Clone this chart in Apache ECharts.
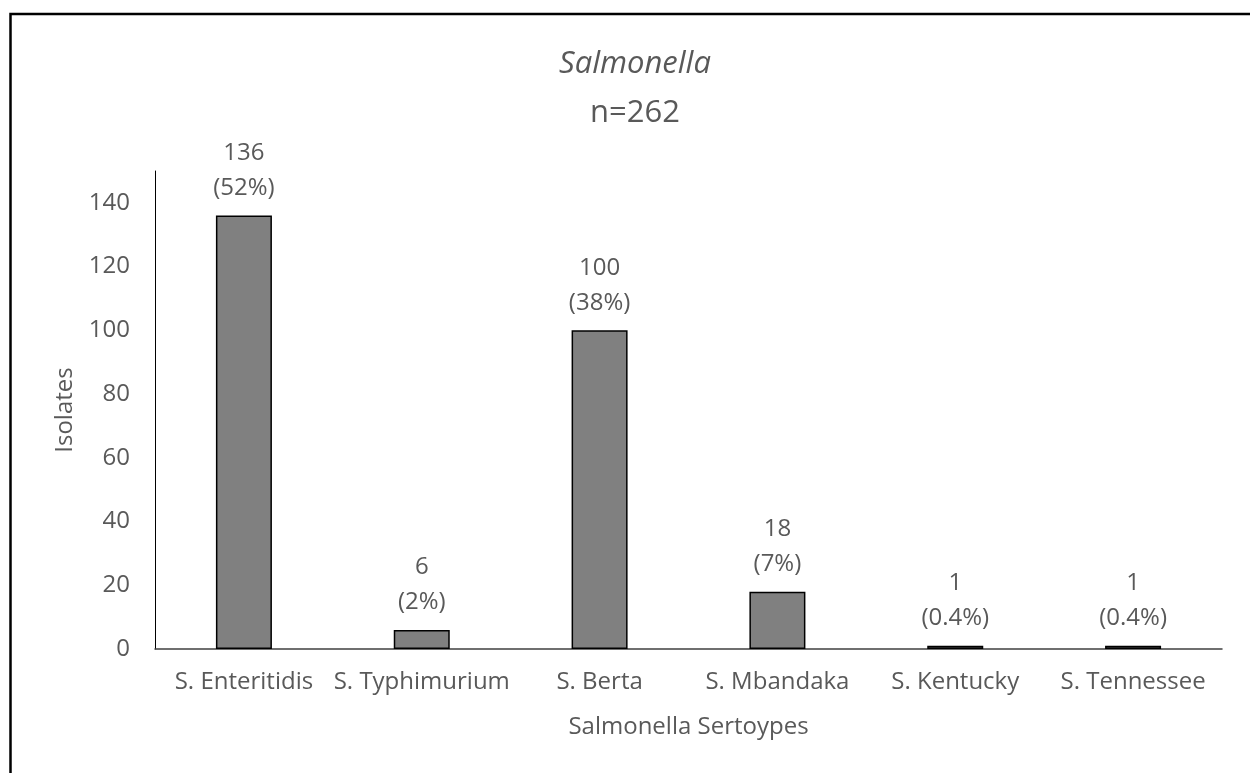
<!DOCTYPE html>
<html>
<head>
<meta charset="utf-8">
<script src="https://cdn.jsdelivr.net/npm/echarts@6/dist/echarts.min.js"></script>
<style>
  html, body { margin: 0; padding: 0; background: #fff; }
  #chart { width: 1250px; height: 773px; }
</style>
</head>
<body>
<div id="chart"></div>
<script>
  const categories = ['S. Enteritidis', 'S. Typhimurium', 'S. Berta', 'S. Mbandaka', 'S. Kentucky', 'S. Tennessee']
  const isolates = [136, 6, 100, 18, 1, 1]
  const percents = ['52%', '2%', '38%', '7%', '0.4%', '0.4%']
  const yTicks = [0, 20, 40, 60, 80, 100, 120, 140]

  const font = '"Open Sans", "Noto Sans", sans-serif'
  const textColor = '#595959'

  const chart = echarts.init(document.getElementById('chart'))
  chart.setOption({
    animation: false,
    title: {
      text: 'Salmonella',
      subtext: 'n=262',
      left: 630,
      textAlign: 'center',
      top: 44,
      itemGap: 18,
      textStyle: { fontFamily: font, fontSize: 31, fontStyle: 'italic', fontWeight: 'normal', color: textColor },
      subtextStyle: { fontFamily: font, fontSize: 31, color: textColor }
    },
    graphic: [{
      type: 'rect',
      shape: { x: 10.5, y: 14, width: 1300, height: 820 },
      style: { fill: 'none', stroke: '#000', lineWidth: 2.5 },
      silent: true
    }],
    grid: { left: 155, right: 28, top: 171, bottom: 124 },
    xAxis: {
      type: 'category',
      data: categories,
      name: 'Salmonella Sertoypes',
      nameLocation: 'middle',
      nameGap: 66,
      nameTextStyle: { fontFamily: font, fontSize: 24, color: textColor },
      axisLine: { lineStyle: { color: '#404040', width: 1.5 } },
      axisTick: { show: false },
      axisLabel: { fontFamily: font, fontSize: 24, color: textColor, margin: 21, interval: 0 }
    },
    yAxis: {
      type: 'value',
      min: 0,
      max: 150,
      interval: 20,
      name: 'Isolates',
      nameLocation: 'middle',
      nameGap: 78,
      nameTextStyle: { fontFamily: font, fontSize: 24, color: textColor },
      axisLine: { show: true, lineStyle: { color: '#000', width: 1 } },
      axisTick: { show: false },
      splitLine: { show: false },
      axisLabel: {
        fontFamily: font, fontSize: 24, color: textColor, margin: 25,
        formatter: v => yTicks.includes(v) ? String(v) : ''
      }
    },
    series: [{
      type: 'bar',
      data: isolates,
      barWidth: 56,
      itemStyle: { color: '#808080', borderColor: '#000', borderWidth: 1.5 },
      label: {
        show: true,
        position: 'top',
        distance: 10,
        fontFamily: font,
        fontSize: 24,
        lineHeight: 35,
        color: textColor,
        formatter: p => p.value + '\n(' + percents[p.dataIndex] + ')'
      }
    }]
  })
</script>
</body>
</html>
